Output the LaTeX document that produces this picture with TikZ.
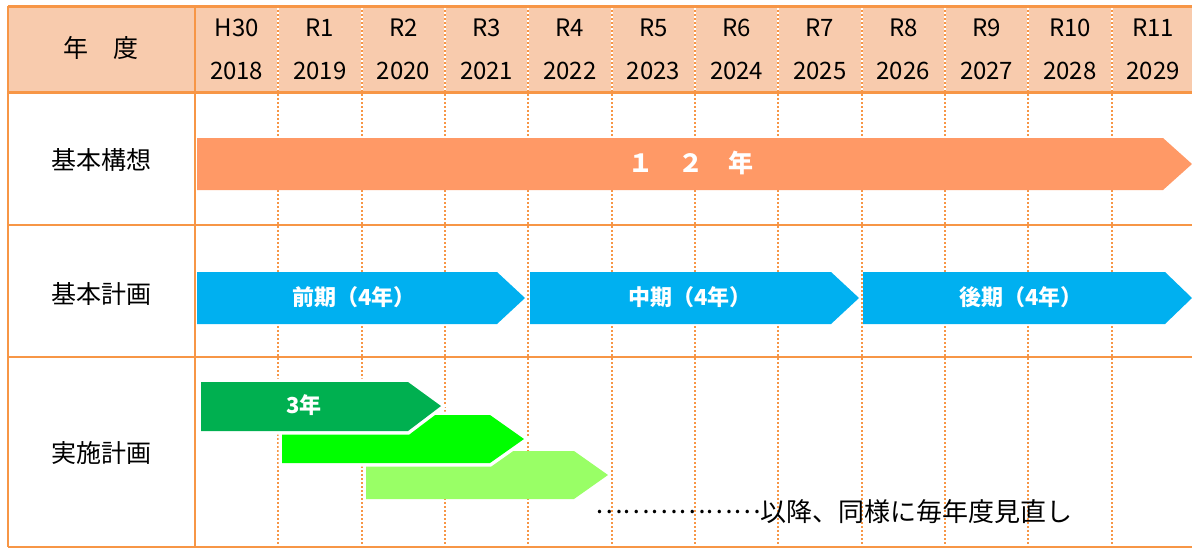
\documentclass[tikz,border=0pt]{standalone}
\usepackage{fontspec}
\setmainfont{Noto Sans CJK JP}
\definecolor{frame}{HTML}{F79646}
\definecolor{head}{HTML}{F8CBAD}
\definecolor{salmon}{HTML}{FF9966}
\definecolor{skyblue}{HTML}{00B0F0}
\definecolor{gone}{HTML}{00B050}
\definecolor{gtwo}{HTML}{00FF00}
\definecolor{gthree}{HTML}{99FF66}
\tikzset{
  solidline/.style={draw=frame, line width=2.5},
  gridline/.style={draw=frame, line width=2, dash pattern=on 2pt off 2pt},
  yeartext/.style={font=\fontsize{24}{24}\selectfont, inner sep=0pt},
  rowlabel/.style={font=\fontsize{25}{25}\selectfont, inner sep=0pt},
  barlabel/.style={text=white, font=\bfseries\fontsize{22}{22}\selectfont, inner sep=0pt},
}
\begin{document}
\begin{tikzpicture}[x=1pt,y=-1pt]
\useasboundingbox (0,0) rectangle (1192,549);
\fill[white] (0,0) rectangle (1192,549);
\fill[head] (8,6) rectangle (1192,92);
% dotted column lines
\foreach \k in {1,...,11} {
  \draw[white, line width=2] ({195+83.33*\k},6) -- ({195+83.33*\k},547);
  \draw[gridline] ({195+83.33*\k},6) -- ({195+83.33*\k},547);
}
% solid frame lines
\draw[solidline, line width=3] (8,6) -- (1192,6);
\draw[solidline, line width=3] (8,92) -- (1192,92);
\draw[solidline] (8,225) -- (1192,225);
\draw[solidline] (8,357) -- (1192,357);
\draw[solidline] (8,547) -- (1192,547);
\draw[solidline] (8,6) -- (8,547);
\draw[solidline] (195,6) -- (195,547);
% header texts
\node[rowlabel] (nendo) at (101,48) {年　度};
\foreach \g/\y [count=\i from 0] in {H30/2018,R1/2019,R2/2020,R3/2021,R4/2022,R5/2023,R6/2024,R7/2025,R8/2026,R9/2027,R10/2028,R11/2029} {
  \node[yeartext] (g\i) at ({195+83.33*(\i+0.5)},28) {\g};
  \node[yeartext] (y\i) at ({195+83.33*(\i+0.5)},71) {\y};
}
% row labels
\node[rowlabel] (kousou) at (101,160) {基本構想};
\node[rowlabel] (keikaku) at (101,294) {基本計画};
\node[rowlabel] (jisshi) at (101,453) {実施計画};
% 12 year arrow
\fill[salmon] (197,138) -- (1163,138) -- (1192,164) -- (1163,190) -- (197,190) -- cycle;
\node[barlabel, font=\bfseries\fontsize{25}{25}\selectfont] (twelve) at (691,163) {１　２　年};
% blue arrows
\fill[skyblue] (197,272) -- (497,272) -- (525,298) -- (497,324) -- (197,324) -- cycle;
\fill[skyblue] (530,272) -- (831,272) -- (859,298) -- (831,324) -- (530,324) -- cycle;
\fill[skyblue] (863,272) -- (1165,272) -- (1192,298) -- (1165,324) -- (863,324) -- cycle;
\node[barlabel] (zenki) at (354,297) {前期（4年）};
\node[barlabel] (chuki) at (690,297) {中期（4年）};
\node[barlabel] (kouki) at (1021,297) {後期（4年）};
% green arrows
\fill[gthree] (366,451) -- (574,451) -- (608,475) -- (574,499) -- (366,499) -- cycle;
\draw[white, line width=7, line join=miter] (282,415) -- (490,415) -- (524,439) -- (490,463) -- (282,463) -- cycle;
\fill[gtwo] (282,415) -- (490,415) -- (524,439) -- (490,463) -- (282,463) -- cycle;
\draw[white, line width=7, line join=miter] (201,382) -- (408,382) -- (441,406) -- (408,431) -- (201,431) -- cycle;
\fill[gone] (201,382) -- (408,382) -- (441,406) -- (408,431) -- (201,431) -- cycle;
\node[barlabel] (three) at (304,405) {3年};
% note
\node[font=\fontsize{26}{26}\selectfont, inner sep=0pt] (note) at (834,512) {\raisebox{0.32em}{………………}以降、同様に毎年度見直し};
\end{tikzpicture}
\end{document}
